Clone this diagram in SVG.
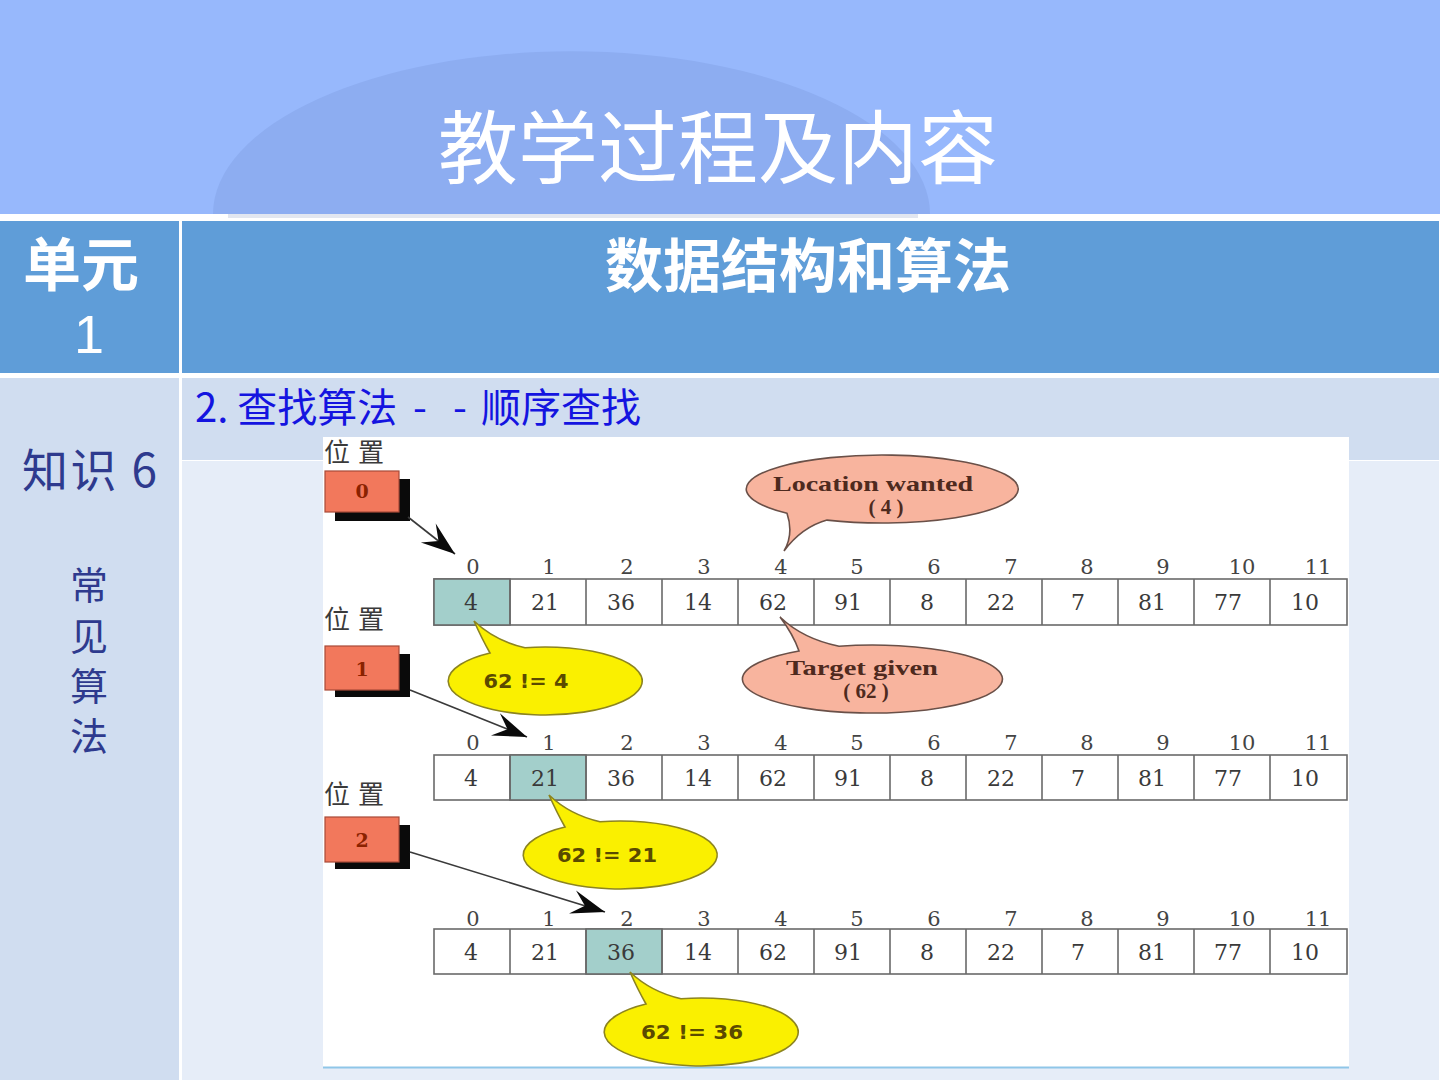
<svg xmlns="http://www.w3.org/2000/svg" width="1440" height="1080" viewBox="0 0 1440 1080">
<defs>
<style>
.cjk{font-family:"Noto Sans CJK SC","Noto Sans",sans-serif}
.title{font-size:80px;fill:#ffffff}
.hdr{font-size:58px;fill:#ffffff;font-weight:700}
.sub{font-size:40px;fill:#1414E0}
.side{fill:#2E3A8E}
.pos{font-family:"Noto Sans CJK SC",sans-serif;font-size:26px;fill:#3a3a3a;letter-spacing:8px}
.idx{font-family:"DejaVu Serif","Liberation Serif",serif;font-size:21px;fill:#444;text-anchor:middle}
.val{font-family:"DejaVu Serif","Liberation Serif",serif;font-size:22px;fill:#3a3a3a;text-anchor:middle}
.cellrow{fill:#ffffff;stroke:#6a6a6a;stroke-width:1.6}
.hl{fill:#A3CFCB;stroke:#6a6a6a;stroke-width:1.6}
.sep{stroke:#6a6a6a;stroke-width:1.6}
.pbox{fill:#F2785C;stroke:#A84A38;stroke-width:1.2}
.pshadow{fill:#0a0a0a}
.ptxt{font-family:"DejaVu Serif",serif;font-size:19px;font-weight:700;fill:#8A2200;text-anchor:middle}
.salmon{fill:#F8B49E;stroke:#6a5048;stroke-width:1.6}
.yellow{fill:#FAF000;stroke:#8C8420;stroke-width:1.6}
.stxt{font-family:"Liberation Serif","DejaVu Serif",serif;font-size:21px;font-weight:700;fill:#4E2A1E;text-anchor:middle}
.ytxt{font-family:"DejaVu Sans","Liberation Sans",sans-serif;font-size:20px;font-weight:700;fill:#5A4A00;text-anchor:middle}
.conn{stroke:#3a3a3a;stroke-width:1.6;fill:none}
</style>
<marker id="arr" markerUnits="userSpaceOnUse" markerWidth="40" markerHeight="30" refX="0" refY="0" viewBox="-36 -15 40 30" orient="auto">
<path d="M0,0 L-34,-12 L-21,0 L-34,12 Z" fill="#0a0a0a"/>
</marker>
<path id="ybub" d="M -55 -28 Q -63 -42 -71 -60 Q -50 -40 -20 -33.3 A 97 34 0 1 1 -55 -28 Z"/>
</defs>

<!-- slide background -->
<g id="background">
<rect x="0" y="0" width="1440" height="1080" fill="#ffffff"/>
<rect x="0" y="0" width="1440" height="214" fill="#97B8FC"/>
<path d="M 213 214 A 357 162 0 0 1 930 214 Z" fill="#8DADF1"/>
<rect x="228" y="214" width="690" height="4" fill="#E2E6F0"/>
</g>

<g id="title">
<text class="cjk title" x="718" y="177" text-anchor="middle">教学过程及内容</text>
</g>

<!-- table -->
<g id="cell-unit">
<rect x="0" y="221" width="179" height="152" fill="#5F9DD8"/>
<text class="cjk hdr" x="81" y="286" text-anchor="middle" font-size="57">单元</text>
<text x="89" y="353" text-anchor="middle" font-family="Liberation Sans, Arial, sans-serif" font-size="54" fill="#ffffff">1</text>
</g>
<g id="cell-topic">
<rect x="182" y="221" width="1257" height="152" fill="#5F9DD8"/>
<text class="cjk hdr" x="808" y="287" text-anchor="middle">数据结构和算法</text>
</g>
<g id="cell-knowledge">
<rect x="0" y="378" width="179" height="702" fill="#D0DDF0"/>
<text class="cjk side" x="22" y="487" font-size="46" textLength="135" lengthAdjust="spacing">知识 6</text>
<text class="cjk side" x="89" y="599" font-size="38" text-anchor="middle">常</text>
<text class="cjk side" x="89" y="650" font-size="38" text-anchor="middle">见</text>
<text class="cjk side" x="89" y="700" font-size="38" text-anchor="middle">算</text>
<text class="cjk side" x="89" y="750" font-size="38" text-anchor="middle">法</text>
</g>
<g id="cell-content">
<rect x="182" y="378" width="1257" height="82" fill="#D0DDF0"/>
<rect x="182" y="461" width="1257" height="619" fill="#E6EDF8"/>
<text class="cjk sub" x="195" y="422">2. 查找算法<tspan x="413">-</tspan><tspan x="453">-</tspan><tspan x="481">顺序查找</tspan></text>
</g>

<!-- embedded figure -->
<g id="figure">
<rect x="323" y="437" width="1026" height="630" fill="#ffffff"/>
<line x1="323" y1="1067.5" x2="1349" y2="1067.5" stroke="#8FC6E8" stroke-width="2"/>
</g>

<!-- pointer boxes -->
<g id="pointer-0">
<text class="pos" x="324" y="462">位置</text>
<rect class="pshadow" x="335" y="479" width="75" height="42"/>
<rect class="pbox" x="325" y="471" width="74" height="41"/>
<text class="ptxt" x="362" y="498">0</text>
</g>
<g id="pointer-1">
<text class="pos" x="324" y="629">位置</text>
<rect class="pshadow" x="335" y="654" width="75" height="43"/>
<rect class="pbox" x="325" y="646" width="74" height="44"/>
<text class="ptxt" x="362" y="676">1</text>
</g>
<g id="pointer-2">
<text class="pos" x="324" y="804">位置</text>
<rect class="pshadow" x="335" y="825" width="75" height="44"/>
<rect class="pbox" x="325" y="817" width="74" height="45"/>
<text class="ptxt" x="362" y="847">2</text>
</g>

<!-- array row 1 -->
<g id="array-1">
<rect class="cellrow" x="434" y="579" width="913" height="46"/>
<rect class="hl" x="434" y="579" width="76" height="46"/>
<path class="sep" d="M510 579V625M586 579V625M662 579V625M738 579V625M814 579V625M890 579V625M966 579V625M1042 579V625M1118 579V625M1194 579V625M1270 579V625"/>
<text class="idx" y="574"><tspan x="473">0</tspan><tspan x="549">1</tspan><tspan x="627">2</tspan><tspan x="704">3</tspan><tspan x="781">4</tspan><tspan x="857">5</tspan><tspan x="934">6</tspan><tspan x="1011">7</tspan><tspan x="1087">8</tspan><tspan x="1163">9</tspan><tspan x="1242">10</tspan><tspan x="1318">11</tspan></text>
<text class="val" y="610"><tspan x="471">4</tspan><tspan x="545">21</tspan><tspan x="621">36</tspan><tspan x="698">14</tspan><tspan x="773">62</tspan><tspan x="848">91</tspan><tspan x="927">8</tspan><tspan x="1001">22</tspan><tspan x="1078">7</tspan><tspan x="1152">81</tspan><tspan x="1228">77</tspan><tspan x="1305">10</tspan></text>
</g>

<!-- array row 2 -->
<g id="array-2">
<rect class="cellrow" x="434" y="755" width="913" height="45"/>
<rect class="hl" x="510" y="755" width="76" height="45"/>
<path class="sep" d="M510 755V800M586 755V800M662 755V800M738 755V800M814 755V800M890 755V800M966 755V800M1042 755V800M1118 755V800M1194 755V800M1270 755V800"/>
<text class="idx" y="750"><tspan x="473">0</tspan><tspan x="549">1</tspan><tspan x="627">2</tspan><tspan x="704">3</tspan><tspan x="781">4</tspan><tspan x="857">5</tspan><tspan x="934">6</tspan><tspan x="1011">7</tspan><tspan x="1087">8</tspan><tspan x="1163">9</tspan><tspan x="1242">10</tspan><tspan x="1318">11</tspan></text>
<text class="val" y="786"><tspan x="471">4</tspan><tspan x="545">21</tspan><tspan x="621">36</tspan><tspan x="698">14</tspan><tspan x="773">62</tspan><tspan x="848">91</tspan><tspan x="927">8</tspan><tspan x="1001">22</tspan><tspan x="1078">7</tspan><tspan x="1152">81</tspan><tspan x="1228">77</tspan><tspan x="1305">10</tspan></text>
</g>

<!-- array row 3 -->
<g id="array-3">
<rect class="cellrow" x="434" y="929" width="913" height="45"/>
<rect class="hl" x="586" y="929" width="76" height="45"/>
<path class="sep" d="M510 929V974M586 929V974M662 929V974M738 929V974M814 929V974M890 929V974M966 929V974M1042 929V974M1118 929V974M1194 929V974M1270 929V974"/>
<text class="idx" y="926"><tspan x="473">0</tspan><tspan x="549">1</tspan><tspan x="627">2</tspan><tspan x="704">3</tspan><tspan x="781">4</tspan><tspan x="857">5</tspan><tspan x="934">6</tspan><tspan x="1011">7</tspan><tspan x="1087">8</tspan><tspan x="1163">9</tspan><tspan x="1242">10</tspan><tspan x="1318">11</tspan></text>
<text class="val" y="960"><tspan x="471">4</tspan><tspan x="545">21</tspan><tspan x="621">36</tspan><tspan x="698">14</tspan><tspan x="773">62</tspan><tspan x="848">91</tspan><tspan x="927">8</tspan><tspan x="1001">22</tspan><tspan x="1078">7</tspan><tspan x="1152">81</tspan><tspan x="1228">77</tspan><tspan x="1305">10</tspan></text>
</g>

<!-- callouts -->
<g id="callout-location">
<path class="salmon" transform="translate(882,489)" d="M -95 24.3 Q -88 45 -98 62 Q -80 38 -55 31.1 A 136 34 0 1 0 -95 24.3 Z"/>
<text class="stxt" x="873" y="491" textLength="200" lengthAdjust="spacingAndGlyphs">Location wanted</text>
<text class="stxt" x="886" y="514" font-size="20">( 4 )</text>
</g>
<g id="callout-target">
<path class="salmon" transform="translate(873,679)" d="M -74 -28 Q -80 -45 -93 -62 Q -70 -40 -34 -32.8 A 130 34 0 1 1 -74 -28 Z"/>
<text class="stxt" x="862" y="675" textLength="152" lengthAdjust="spacingAndGlyphs">Target given</text>
<text class="stxt" x="866" y="698" font-size="20">( 62 )</text>
</g>
<g id="callout-cmp-0">
<use href="#ybub" class="yellow" transform="translate(545,681)"/>
<text class="ytxt" x="526" y="688" textLength="85" lengthAdjust="spacingAndGlyphs">62 != 4</text>
</g>
<g id="callout-cmp-1">
<use href="#ybub" class="yellow" transform="translate(620,855)"/>
<text class="ytxt" x="607" y="862" textLength="100" lengthAdjust="spacingAndGlyphs">62 != 21</text>
</g>
<g id="callout-cmp-2">
<use href="#ybub" class="yellow" transform="translate(701,1032)"/>
<text class="ytxt" x="692" y="1039" textLength="102" lengthAdjust="spacingAndGlyphs">62 != 36</text>
</g>

<!-- connectors -->
<g id="connectors">
<path class="conn" d="M408 517 L455 554" marker-end="url(#arr)"/>
<path class="conn" d="M410 690 L527 737" marker-end="url(#arr)"/>
<path class="conn" d="M410 852 L605 912" marker-end="url(#arr)"/>
</g>
</svg>
